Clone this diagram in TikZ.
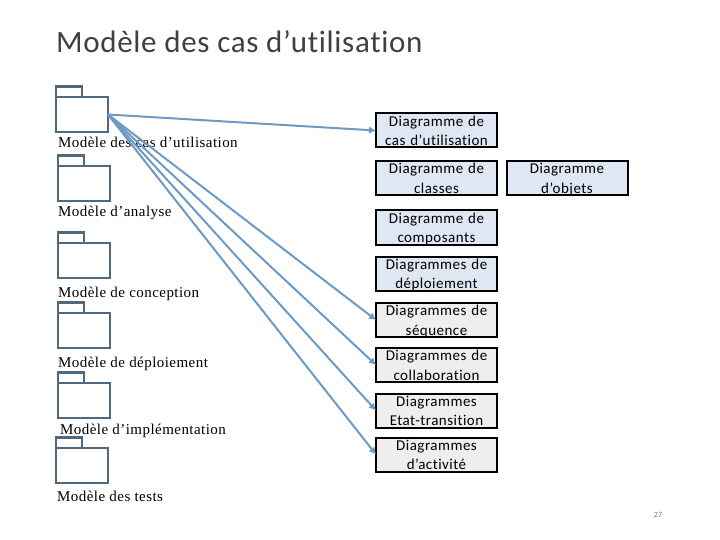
\documentclass[tikz,border=0pt]{standalone}
\usepackage{fontspec}
\usetikzlibrary{arrows.meta}
\setmainfont{Liberation Serif}
\newfontfamily\titlefont[LetterSpace=2.2,Ligatures=NoCommon]{Carlito}
\newfontfamily\boxfont[LetterSpace=3.2,Ligatures=NoCommon]{Carlito}
\newfontfamily\pagefont{Carlito}
\newfontfamily\labelfont[LetterSpace=3]{Liberation Serif}
\definecolor{pkgline}{HTML}{51697F}
\definecolor{arrowblue}{HTML}{6C9AC4}
\definecolor{bluefill}{HTML}{DEE7F3}
\definecolor{greyfill}{HTML}{EEEEEE}
\tikzset{
  pkgbody/.style={draw=pkgline, line width=2.2pt, fill=white, minimum width=52pt, minimum height=35pt, inner sep=0pt, outer sep=0pt, anchor=north west},
  pkgtab/.style={draw=pkgline, line width=2.2pt, fill=white, minimum width=26pt, minimum height=10.5pt, inner sep=0pt, outer sep=0pt, anchor=south west},
  pkglabel/.style={font=\labelfont\fontsize{15}{17}\selectfont, anchor=base west, inner sep=0pt},
  diagbox/.style={draw=black, line width=2pt, minimum width=121pt, minimum height=34pt, inner sep=0pt, outer sep=0pt},
  diagtext/.style={text width=121pt, inner sep=0pt, yshift=-1.5pt, align=center, font=\boxfont\fontsize{15}{19.5}\selectfont},
  usecase/.style={-{Latex[length=7pt,width=7.5pt]}, draw=arrowblue, line width=2pt}
}
\begin{document}
\begin{tikzpicture}[x=1pt, y=-1pt]
  \useasboundingbox (0,0) rectangle (720,540);
  \node[anchor=base west, inner sep=0pt, text=black!75, font=\titlefont\fontsize{31}{36}\selectfont] (title) at (56,53) {Modèle des cas d’utilisation};
  \foreach \n/\x/\y/\px/\py/\lab in {1/56/97/58/148/{Modèle des cas d’utilisation}, 2/58/166/58/217/{Modèle d’analyse}, 3/58/243/58/297/{Modèle de conception}, 4/58/313/58/367/{Modèle de déploiement}, 5/58/383/60/434/{Modèle d’implémentation}, 6/56/448/57/501/{Modèle des tests}} {
    \node[pkgbody] (pkg\n) at (\x,\y) {};
    \node[pkgtab] (tab\n) at (pkg\n.north west) {};
    \node[pkglabel] (lab\n) at (\px,\py) {\lab};
  }
  \foreach \n/\x/\y/\col/\lab in {1/436.5/130.5/bluefill/{\strut Diagramme de\\cas d’utilisation\strut}, 2/436.5/178/bluefill/{\strut Diagramme de\\classes\strut}, 3/436.5/227.5/bluefill/{\strut Diagramme de\\composants\strut}, 4/436.5/273.5/bluefill/{\strut Diagrammes de\\déploiement\strut}, 5/436.5/320/greyfill/{\strut Diagrammes de\\séquence\strut}, 6/436.5/365/greyfill/{\strut Diagrammes de\\collaboration\strut}, 7/436.5/410.5/greyfill/{\strut Diagrammes\\Etat-transition\strut}, 8/436.5/454.5/greyfill/{\strut Diagrammes\\d’activité\strut}, 9/567/178/bluefill/{\strut Diagramme\\d’objets\strut}} {
    \node[diagbox, fill=\col] (diag\n) at (\x,\y) {};
    \node[diagtext] (text\n) at (diag\n.center) {\lab};
  }
  \foreach \n in {1,5,6,7,8} {
    \draw[usecase] (pkg1.east) -- (diag\n.west);
  }
  \node[text=black!55, font=\pagefont\fontsize{8}{9}\selectfont, inner sep=0pt] (page) at (658,515) {27};
\end{tikzpicture}
\end{document}
